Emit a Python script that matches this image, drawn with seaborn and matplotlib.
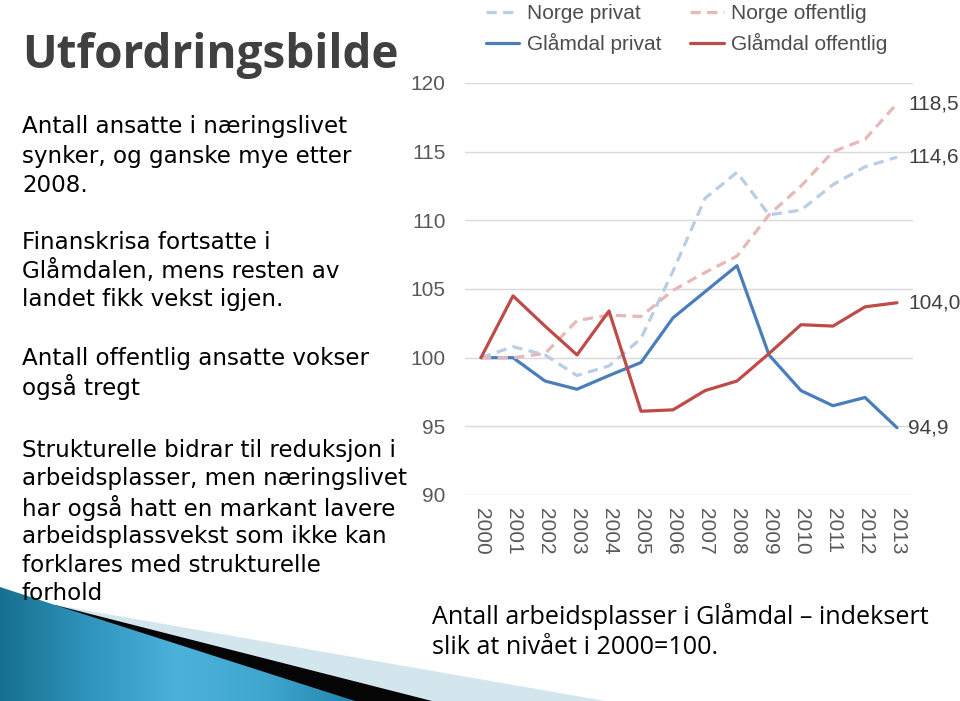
import numpy as np
import pandas as pd
import matplotlib
matplotlib.use("Agg")
import matplotlib.pyplot as plt
from matplotlib.patches import Polygon
from matplotlib.colors import LinearSegmentedColormap
from matplotlib.lines import Line2D
import seaborn as sns

# ---------------- data ----------------
years = list(range(2000, 2014))
norge_privat = [100.0, 100.8, 100.2, 98.7, 99.4, 101.4, 106.3, 111.6, 113.5, 110.4, 110.75, 112.6, 113.9, 114.6]
norge_offentlig = [100.0, 100.0, 100.3, 102.7, 103.1, 103.0, 104.9, 106.2, 107.4, 110.4, 112.5, 115.0, 115.9, 118.5]
glamdal_privat = [100.0, 100.0, 98.3, 97.7, 98.7, 99.65, 102.9, 104.8, 106.7, 100.2, 97.6, 96.5, 97.1, 94.9]
glamdal_offentlig = [100.0, 104.5, 102.3, 100.2, 103.4, 96.1, 96.2, 97.6, 98.3, 100.3, 102.4, 102.3, 103.7, 104.0]
series_names = ["Norge privat", "Glåmdal privat", "Norge offentlig", "Glåmdal offentlig"]
end_labels = {"Norge offentlig": "118,5", "Norge privat": "114,6",
              "Glåmdal offentlig": "104,0", "Glåmdal privat": "94,9"}
y_ticks = [90, 95, 100, 105, 110, 115, 120]

title = "Utfordringsbilde"
body_lines = [
    ("Antall ansatte i næringslivet", 127),
    ("synker, og ganske mye etter", 156),
    ("2008.", 185),
    ("Finanskrisa fortsatte i", 242),
    ("Glåmdalen, mens resten av", 271),
    ("landet fikk vekst igjen.", 300),
    ("Antall offentlig ansatte vokser", 358),
    ("også tregt", 387),
    ("Strukturelle bidrar til reduksjon i", 450),
    ("arbeidsplasser, men næringslivet", 479),
    ("har også hatt en markant lavere", 508),
    ("arbeidsplassvekst som ikke kan", 537),
    ("forklares med strukturelle", 565),
    ("forhold", 594),
]
caption_lines = [("Antall arbeidsplasser i Glåmdal – indeksert", 617),
                 ("slik at nivået i 2000=100.", 647)]

df = pd.DataFrame({
    "year": years * 4,
    "value": norge_privat + glamdal_privat + norge_offentlig + glamdal_offentlig,
    "series": sum([[s] * len(years) for s in series_names], []),
})

colors = {"Norge privat": "#b9cde5", "Norge offentlig": "#e6b9b8",
          "Glåmdal privat": "#4a7ebb", "Glåmdal offentlig": "#be4b48"}
dashes = {"Norge privat": (3.2, 2.0), "Norge offentlig": (3.2, 2.0),
          "Glåmdal privat": "", "Glåmdal offentlig": ""}

sns.set_theme(style="white")
plt.rcParams["font.family"] = ["Liberation Sans", "DejaVu Sans"]

W, H = 960, 701
fig = plt.figure(figsize=(W / 100, H / 100), dpi=100)
fig.patch.set_facecolor("white")

# ---------------- decoration (background axes in pixel coords) ----------------
bg = fig.add_axes([0, 0, 1, 1], zorder=0)
bg.axis("off")
light = Polygon([(55, 605), (605, 701), (0, 701)], closed=True,
                facecolor="#d3e6ee", edgecolor="none")
bg.add_patch(light)
black = Polygon([(55, 605), (432, 701), (0, 701)], closed=True,
                facecolor="#050505", edgecolor="none")
bg.add_patch(black)
blue_poly = Polygon([(0, 587), (55, 605), (355, 701), (0, 701)], closed=True,
                    facecolor="none", edgecolor="none")
bg.add_patch(blue_poly)
cmap = LinearSegmentedColormap.from_list("g", ["#17708e", "#2f95bd", "#4cb2da", "#3fa6cf", "#2186ad"])
grad = np.linspace(0, 1, 256).reshape(1, -1)
im = bg.imshow(grad, cmap=cmap, extent=[0, 355, 701, 587], aspect="auto", zorder=1)
im.set_clip_path(blue_poly)
bg.set_xlim(0, W)
bg.set_ylim(H, 0)

# ---------------- chart ----------------
left, right, top, bottom = 465, 913, 83, 495
ax = fig.add_axes([left / W, 1 - bottom / H, (right - left) / W, (bottom - top) / H], zorder=2)
ax.patch.set_alpha(0)

sns.lineplot(data=df, x="year", y="value", hue="series", style="series",
             hue_order=series_names, style_order=series_names,
             palette=colors, dashes=dashes, linewidth=2.3, ax=ax, legend=False)

ax.set_xlim(1999.5, 2013.5)
ax.set_ylim(90, 120)
ax.set_yticks(y_ticks)
ax.set_xticks(years)
ax.set_xticklabels([str(y) for y in years], rotation=270)
ax.grid(axis="y", color="#d9d9d9", linewidth=1.0)
ax.grid(axis="x", visible=False)
for sp in ax.spines.values():
    sp.set_visible(False)
ax.tick_params(axis="y", length=0, pad=14, labelsize=15, labelcolor="#595959")
ax.tick_params(axis="x", length=0, pad=9, labelsize=15, labelcolor="#595959")
ax.set_xlabel("")
ax.set_ylabel("")

vals = {"Norge privat": norge_privat, "Norge offentlig": norge_offentlig,
        "Glåmdal privat": glamdal_privat, "Glåmdal offentlig": glamdal_offentlig}
for name, lab in end_labels.items():
    ax.annotate(lab, xy=(years[-1], vals[name][-1]), xytext=(8, 0),
                textcoords="offset points", va="center", ha="left",
                fontsize=15, color="#404040", annotation_clip=False)

# legend
handles = [Line2D([0], [0], color=colors[n], linewidth=2.3,
                  linestyle=(0, dashes[n]) if dashes[n] else "-") for n in series_names]
leg = fig.legend(handles, series_names, loc="upper left",
                 bbox_to_anchor=(486 / W, 1 - 4 / H), ncol=2, frameon=False,
                 fontsize=15, handlelength=1.6, handletextpad=0.35,
                 columnspacing=1.4, labelspacing=0.5, borderaxespad=0, borderpad=0)
for t in leg.get_texts():
    t.set_color("#4d4d4d")

# ---------------- slide text ----------------
fig.text(22 / W, 1 - 50 / H, title, fontsize=33, fontweight="bold", color="#404040",
         va="center_baseline", ha="left", family=["Open Sans", "DejaVu Sans"])
for txt, yp in body_lines:
    fig.text(22 / W, 1 - yp / H, txt, fontsize=16.6, color="#000000",
             va="center", ha="left", family=["DejaVu Sans"])
for txt, yp in caption_lines:
    fig.text(432 / W, 1 - yp / H, txt, fontsize=18.1, color="#000000",
             va="center", ha="left", family=["Open Sans", "DejaVu Sans"])

fig.savefig("out.png", dpi=100)
